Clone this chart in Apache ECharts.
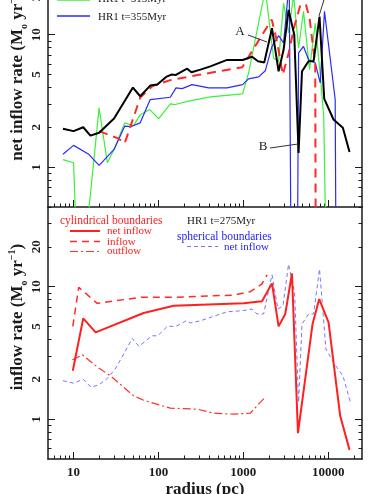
<!DOCTYPE html>
<html>
<head>
<meta charset="utf-8">
<script src="https://cdn.jsdelivr.net/npm/echarts@6/dist/echarts.min.js"></script>
<style>
  html, body { margin: 0; padding: 0; background: #fff; }
  #chart { width: 382px; height: 494px; }
</style>
</head>
<body>
<div id="chart"></div>
<script>
// top panel: net inflow rate at several times
const blackR = [7.5, 10, 13, 15.8, 20, 30, 50, 61, 80, 97, 123, 142, 161, 190, 218, 245, 312, 409, 643, 981, 1265, 1489, 1766, 2176, 2603, 2980, 3413, 3981, 4475, 4909, 5867, 6719, 7900, 8977, 11540, 14880, 17820]
const blackV = [1.95, 1.87, 2.0, 1.73, 1.82, 2.33, 3.99, 3.43, 4.13, 4.2, 4.8, 5.0, 4.97, 5.29, 5.54, 5.2, 5.45, 5.77, 6.45, 6.45, 6.82, 6.3, 6.18, 11.2, 5.29, 7.7, 15.4, 10, 1.28, 5.29, 6.3, 6.3, 13.7, 3.28, 2.29, 1.98, 1.3]
const redR = [20, 34, 40, 61, 85, 138, 312, 973, 1718, 2163, 2512, 2917, 3428, 3981, 5082, 6026, 7030, 7150]
const redV = [1.87, 1.64, 1.51, 3.35, 4.09, 4.54, 5.0, 5.69, 10.3, 13.0, 8.7, 5.0, 7.32, 11.5, 20, 13.4, 5.94, 0.1]
const greenR = [7.5, 10, 11, 13.2, 20, 25, 30, 40, 51, 61, 79, 101, 138, 158, 218, 409, 981, 1153, 1816, 2270, 2603, 2980, 3413, 3908, 4475, 5117, 6026, 7030, 8054, 8851, 9462]
const greenV = [1.14, 1.08, 0.2, 0.2, 2.8, 1.08, 1.36, 2.16, 2.06, 2.49, 2.72, 2.32, 3.0, 2.97, 3.14, 3.39, 3.57, 5.14, 22, 6.67, 6.29, 17.3, 10.3, 20, 7.94, 15, 5.45, 12.2, 5.0, 2.41, 0.2]
const blueR = [7.5, 10, 15.1, 20, 30, 40, 47, 61, 80, 138, 161, 190, 249, 391, 643, 981, 1153, 1514, 1816, 2176, 2603, 2980, 3475, 3672, 4315, 4475, 5117, 5867, 7030, 8054, 9036, 12080, 12420]
const blueV = [1.25, 1.46, 1.25, 1.03, 1.36, 2.04, 2.02, 2.16, 3.24, 3.37, 3.97, 3.92, 4.2, 3.97, 3.97, 4.2, 4.64, 4.8, 5.35, 8.16, 9.83, 8.66, 25, 0.1, 0.1, 7.28, 8.16, 6.48, 6.12, 4.33, 15, 3.24, 0.1]

// bottom panel: HR1 t=275Myr
const netR = [9.8, 13, 18.2, 67, 151, 1009, 1660, 2176, 2603, 3119, 3741, 4400, 6538, 7834, 10090, 13830, 17820]
const netV = [2.32, 5.77, 4.52, 6.33, 7.18, 7.49, 7.76, 10.6, 5.02, 6.22, 12.6, 0.784, 5.22, 8.07, 5.38, 1.06, 0.586]
const inR = [9.8, 11.5, 19, 61, 151, 769, 1208, 1660, 1901]
const inV = [5.02, 9.9, 7.49, 8.31, 8.31, 8.65, 9.17, 10.5, 12.3]
const outR = [9.7, 12.7, 19, 27, 51, 67, 138, 285, 448, 769, 1208, 1514, 1816]
const outV = [2.81, 3.06, 2.48, 2.13, 1.5, 1.39, 1.21, 1.19, 1.11, 1.09, 1.11, 1.3, 1.47]
const sphR = [7.5, 10, 13, 16.1, 20, 25, 31, 40, 49, 59, 84, 98, 127, 161, 212, 238, 312, 448, 643, 981, 1265, 1449, 1734, 2176, 2559, 2931, 3413, 4018, 4475, 4909, 5867, 6719, 7900, 9400, 11540, 14880, 18150]
const sphV = [1.95, 1.87, 2.0, 1.74, 1.82, 2.03, 2.39, 3.19, 4.07, 3.55, 4.26, 4.26, 5.02, 5.02, 5.53, 5.32, 5.53, 5.98, 6.47, 6.59, 6.78, 6.22, 6.22, 12.3, 6.78, 7.18, 14.8, 9.07, 1.34, 5.22, 6.22, 6.22, 13.6, 3.38, 2.68, 2.13, 1.36]

// axes
const xMajor = [10, 100, 1000, 10000]
const xMinor = [6, 7, 8, 9, 20, 30, 40, 50, 60, 70, 80, 90, 200, 300, 400, 500, 600, 700, 800, 900, 2000, 3000, 4000, 5000, 6000, 7000, 8000, 9000, 20000]
const yMajor = [1, 10]
const yMinor = [0.6, 0.7, 0.8, 0.9, 2, 3, 4, 5, 6, 7, 8, 9, 20, 30, 40]
const yLabels = [1, 2, 5, 10, 20]

const FONT = "Liberation Serif"
const INK = "#1a1a1a"

function pairs(r, v) {
  return r.map((x, i) => [x, v[i]])
}

function axis(dim, gridIndex, position, ticks, len, extra) {
  return Object.assign({
    type: "log",
    logBase: 10,
    gridIndex,
    position,
    min: dim === "x" ? 5 : 0.5,
    max: dim === "x" ? 25000 : 40,
    axisLine: { show: false },
    axisTick: { show: true, inside: true, length: len, customValues: ticks, lineStyle: { color: INK, width: 1 } },
    axisLabel: { show: false },
    splitLine: { show: false },
    minorTick: { show: false }
  }, extra)
}

const frame = { show: true, lineStyle: { color: INK, width: 1.5 } }

const yLabel = {
  show: true,
  customValues: yLabels,
  rotate: 90,
  margin: 5,
  color: INK,
  fontFamily: FONT,
  fontSize: 13,
  fontWeight: "bold",
  formatter: v => String(Math.round(v))
}

function line(name, r, v, color, width, type, x, y) {
  return {
    name,
    type: "line",
    xAxisIndex: x,
    yAxisIndex: y,
    data: pairs(r, v),
    symbol: "none",
    clip: true,
    lineStyle: { color, width, type },
    z: 3
  }
}

function legendLine(x1, x2, y, color, width, dash) {
  return { type: "line", shape: { x1, y1: y, x2, y2: y }, style: { stroke: color, lineWidth: width, lineDash: dash }, z: 10 }
}

function label(x, y, text, color, size, extra) {
  return {
    type: "text", x, y, z: 10,
    style: Object.assign({ text, fill: color, fontFamily: FONT, fontSize: size, verticalAlign: "middle", align: "left" }, extra)
  }
}

function yTitle(x, y, text) {
  return {
    type: "text", x, y, rotation: Math.PI / 2, z: 10,
    style: {
      text, fill: INK, fontFamily: FONT, fontSize: 17, fontWeight: "bold",
      align: "center", verticalAlign: "middle", lineHeight: 22,
      rich: {
        sub: { fontSize: 10, fontWeight: "bold", fontFamily: FONT, verticalAlign: "bottom", lineHeight: 22, fill: INK },
        sup: { fontSize: 10, fontWeight: "bold", fontFamily: FONT, verticalAlign: "top", lineHeight: 22, fill: INK }
      }
    }
  }
}

const chart = echarts.init(document.getElementById("chart"), null, { renderer: "canvas" })

chart.setOption({
  animation: false,
  backgroundColor: "#fff",
  grid: [
    { left: 48, width: 314, top: -45, height: 252, outerBoundsMode: "none", containLabel: false },
    { left: 48, width: 314, top: 207, height: 252, outerBoundsMode: "none", containLabel: false }
  ],
  xAxis: [
    axis("x", 0, "bottom", xMajor, 7, { axisLine: frame }),
    axis("x", 0, "bottom", xMinor, 3.5),
    axis("x", 1, "bottom", xMajor, 7, {
      axisLine: frame,
      axisLabel: { show: true, customValues: xMajor, margin: 7, color: INK, fontFamily: FONT, fontSize: 13, fontWeight: "bold", formatter: v => String(Math.round(v)) },
      name: "radius (pc)",
      nameLocation: "middle",
      nameGap: 22,
      nameMoveOverlap: false,
      nameTextStyle: { color: INK, fontFamily: FONT, fontSize: 17, fontWeight: "bold", verticalAlign: "top" }
    }),
    axis("x", 1, "bottom", xMinor, 3.5)
  ],
  yAxis: [
    axis("y", 0, "left", yMajor, 7, { axisLine: frame, axisLabel: yLabel }),
    axis("y", 0, "left", yMinor, 3.5),
    axis("y", 0, "right", yMajor, 7, { axisLine: frame }),
    axis("y", 0, "right", yMinor, 3.5),
    axis("y", 1, "left", yMajor, 7, { axisLine: frame, axisLabel: yLabel }),
    axis("y", 1, "left", yMinor, 3.5),
    axis("y", 1, "right", yMajor, 7, { axisLine: frame }),
    axis("y", 1, "right", yMinor, 3.5)
  ],
  series: [
    line("HR1 t=315Myr", greenR, greenV, "#3cf03c", 1.2, "solid", 0, 0),
    line("HR1 t=355Myr", blueR, blueV, "#2a2aff", 1.2, "solid", 0, 0),
    line("HR1 t=295Myr", redR, redV, "#ff2a2a", 2, [9, 6], 0, 0),
    line("HR1 t=275Myr", blackR, blackV, "#000000", 2, "solid", 0, 0),
    line("outflow", outR, outV, "#ff3030", 1.2, [8, 3, 2, 3], 2, 4),
    line("inflow", inR, inV, "#ff2a2a", 1.5, [7, 5], 2, 4),
    line("spherical net inflow", sphR, sphV, "#7777ff", 1, [4, 3], 2, 4),
    line("net inflow", netR, netV, "#ff2020", 2, "solid", 2, 4)
  ],
  graphic: [
    yTitle(18, 74, "net inflow rate (M{sub|o} yr{sup|−1})"),
    yTitle(18, 317, "inflow rate (M{sub|o} yr{sup|−1})"),

    legendLine(57, 90, 0, "#3cf03c", 1.5),
    label(98, -1, "HR1 t=315Myr", INK, 11),
    legendLine(57, 90, 16, "#2a2aff", 1.5),
    label(98, 17, "HR1 t=355Myr", INK, 11),

    label(240, 32, "A", INK, 13, { align: "center" }),
    { type: "line", shape: { x1: 248, y1: 35, x2: 267, y2: 42 }, style: { stroke: "#333", lineWidth: 1 }, z: 10 },
    label(263, 147, "B", INK, 13, { align: "center" }),
    { type: "line", shape: { x1: 270, y1: 148, x2: 298, y2: 144 }, style: { stroke: "#333", lineWidth: 1 }, z: 10 },
    { type: "line", shape: { x1: 319, y1: 16, x2: 327, y2: -10 }, style: { stroke: "#333", lineWidth: 1 }, z: 10 },

    label(60, 221, "cylindrical boundaries", "#ff2020", 11.5),
    label(187, 221, "HR1 t=275Myr", INK, 11),
    legendLine(70, 100, 231, "#ff2020", 2),
    label(107, 231, "net inflow", "#ff2020", 11),
    legendLine(70, 100, 241.5, "#ff2a2a", 1.5, [7, 5]),
    label(107, 242, "inflow", "#ff2020", 11),
    legendLine(70, 100, 251.5, "#ff3030", 1.2, [8, 3, 2, 3]),
    label(107, 251.5, "outflow", "#ff2020", 11),
    label(177, 236.5, "spherical boundaries", "#2222ff", 11.5),
    legendLine(187, 218, 246.5, "#7777ff", 1, [4, 3]),
    label(224, 247, "net inflow", "#2222ff", 11)
  ]
})
</script>
</body>
</html>
